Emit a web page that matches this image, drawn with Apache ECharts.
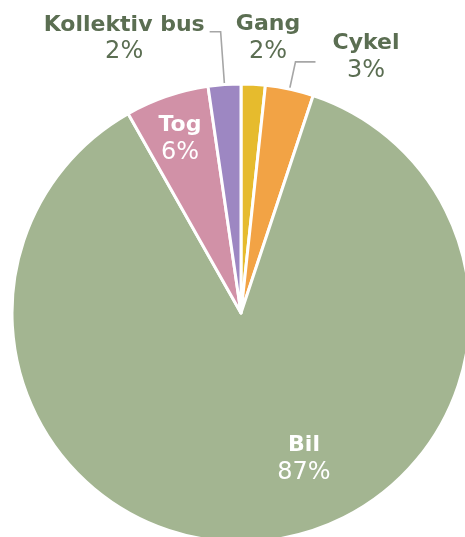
<!DOCTYPE html>
<html>
<head>
<meta charset="utf-8">
<script src="https://cdn.jsdelivr.net/npm/echarts@6/dist/echarts.min.js"></script>
<style>
  html, body { margin: 0; padding: 0; background: #fff; }
  #pie { width: 465px; height: 537px; }
</style>
</head>
<body>
<div id="pie"></div>
<script>
// transport mode shares (%), clockwise from 12 o'clock
const categories = ['Gang', 'Cykel', 'Bil', 'Tog', 'Kollektiv bus'];
const shares = [1.7, 3.4, 86.7, 5.9, 2.3];
const sliceColors = ['#e6bb2d', '#f2a345', '#a3b591', '#d191a7', '#9d87c2'];

const darkText = '#5b6e52';
const font = 'DejaVu Sans';

// where labels sit when not the default outside spot
const labelSpots = {
  0: [268, 38],   // Gang
  2: [304, 459],  // Bil
  3: [180, 139]   // Tog
};

function richFor(color) {
  return {
    n: { fontFamily: font, fontWeight: 'bold', fontSize: 22, color: color, lineHeight: 27, align: 'center' },
    p: { fontFamily: font, fontSize: 24, color: color, lineHeight: 27, align: 'center' }
  };
}

// per-slice label tweaks
const labelStyle = [
  { inside: false, line: false },
  { inside: false, line: true, length: 28, length2: 20, gap: 17, padding: [0, 0, 10, 0] },
  { inside: true, line: false },
  { inside: true, line: false },
  { inside: false, line: true, length: 53, length2: 11, gap: 5, padding: [14, 0, 0, 0] }
];

const pieData = categories.map(function (name, i) {
  const s = labelStyle[i];
  const item = {
    name: name,
    value: shares[i],
    itemStyle: { color: sliceColors[i] },
    label: {
      rich: richFor(s.inside ? '#ffffff' : darkText)
    },
    labelLine: { show: s.line }
  };
  if (s.line) {
    item.labelLine.length = s.length;
    item.labelLine.length2 = s.length2;
    item.label.distanceToLabelLine = s.gap;
    item.label.padding = s.padding;
  }
  return item;
});

const chart = echarts.init(document.getElementById('pie'));
chart.setOption({
  animation: false,
  series: [{
    type: 'pie',
    center: [241, 313],
    radius: 229,
    startAngle: 90,
    clockwise: true,
    avoidLabelOverlap: false,
    percentPrecision: 0,
    itemStyle: { borderColor: '#ffffff', borderWidth: 3 },
    label: {
      show: true,
      position: 'outside',
      formatter: '{n|{b}}\n{p|{d}%}'
    },
    labelLine: {
      smooth: false,
      lineStyle: { color: '#a6a6a6', width: 1.6 }
    },
    labelLayout: function (p) {
      const spot = labelSpots[p.dataIndex];
      if (!spot) return {};
      return { x: spot[0], y: spot[1], align: 'center', verticalAlign: 'middle' };
    },
    data: pieData
  }]
});
</script>
</body>
</html>
